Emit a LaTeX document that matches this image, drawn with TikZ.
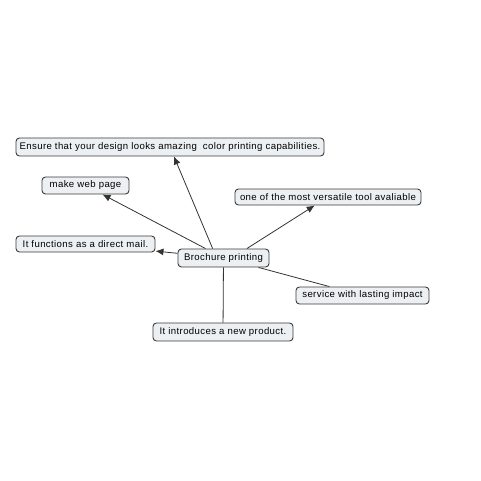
\documentclass[tikz,border=0pt]{standalone}
\usepackage{fontspec}
\setmainfont[LetterSpace=4]{Liberation Sans}
\usepackage{tikz}
\usetikzlibrary{arrows.meta}

\definecolor{boxfill}{HTML}{ECF0F3}
\definecolor{boxline}{HTML}{3A3A3A}
\definecolor{linkline}{HTML}{333333}

\tikzset{
    concept/.style={draw=boxline, fill=boxfill, rounded corners=3.5pt, line width=.9pt,
        inner sep=0pt, font=\fontsize{9.6}{11}\selectfont},
    link/.style={draw=linkline, line width=.8pt},
}

\begin{document}
\begin{tikzpicture}[>={Latex[length=8pt,width=7pt]},x=1pt,y=-1pt]
        \useasboundingbox (0,0) rectangle (481,481);
        \node[concept, minimum width=91pt, minimum height=18pt] (brochure) at (223.5,258) {Brochure printing};
        \node[concept, minimum width=308pt, minimum height=18pt] (ensure) at (170,147) {Ensure that your design looks amazing~ color printing capabilities.};
        \node[concept, minimum width=87pt, minimum height=17pt] (web) at (85.5,185.5) {make web page};
        \node[concept, minimum width=186pt, minimum height=16pt] (versatile) at (328,197) {one of the most versatile tool avaliable};
        \node[concept, minimum width=139pt, minimum height=16pt] (mail) at (85.5,244) {It functions as a direct mail.};
        \node[concept, minimum width=133pt, minimum height=17pt] (service) at (362.5,295.5) {service with lasting impact};
        \node[concept, minimum width=140pt, minimum height=18pt] (product) at (223,332) {It introduces a new product.};

        \draw[link,->] (brochure.139)--(ensure);
        \draw[link,->] (brochure.22)--(versatile);
        \foreach \target in {web,mail}
        {
            \draw[link,->] (brochure)--(\target);
        }
        \draw[link] (brochure)--(service);
        \draw[link] (brochure)--(product);

    \end{tikzpicture}
\end{document}
